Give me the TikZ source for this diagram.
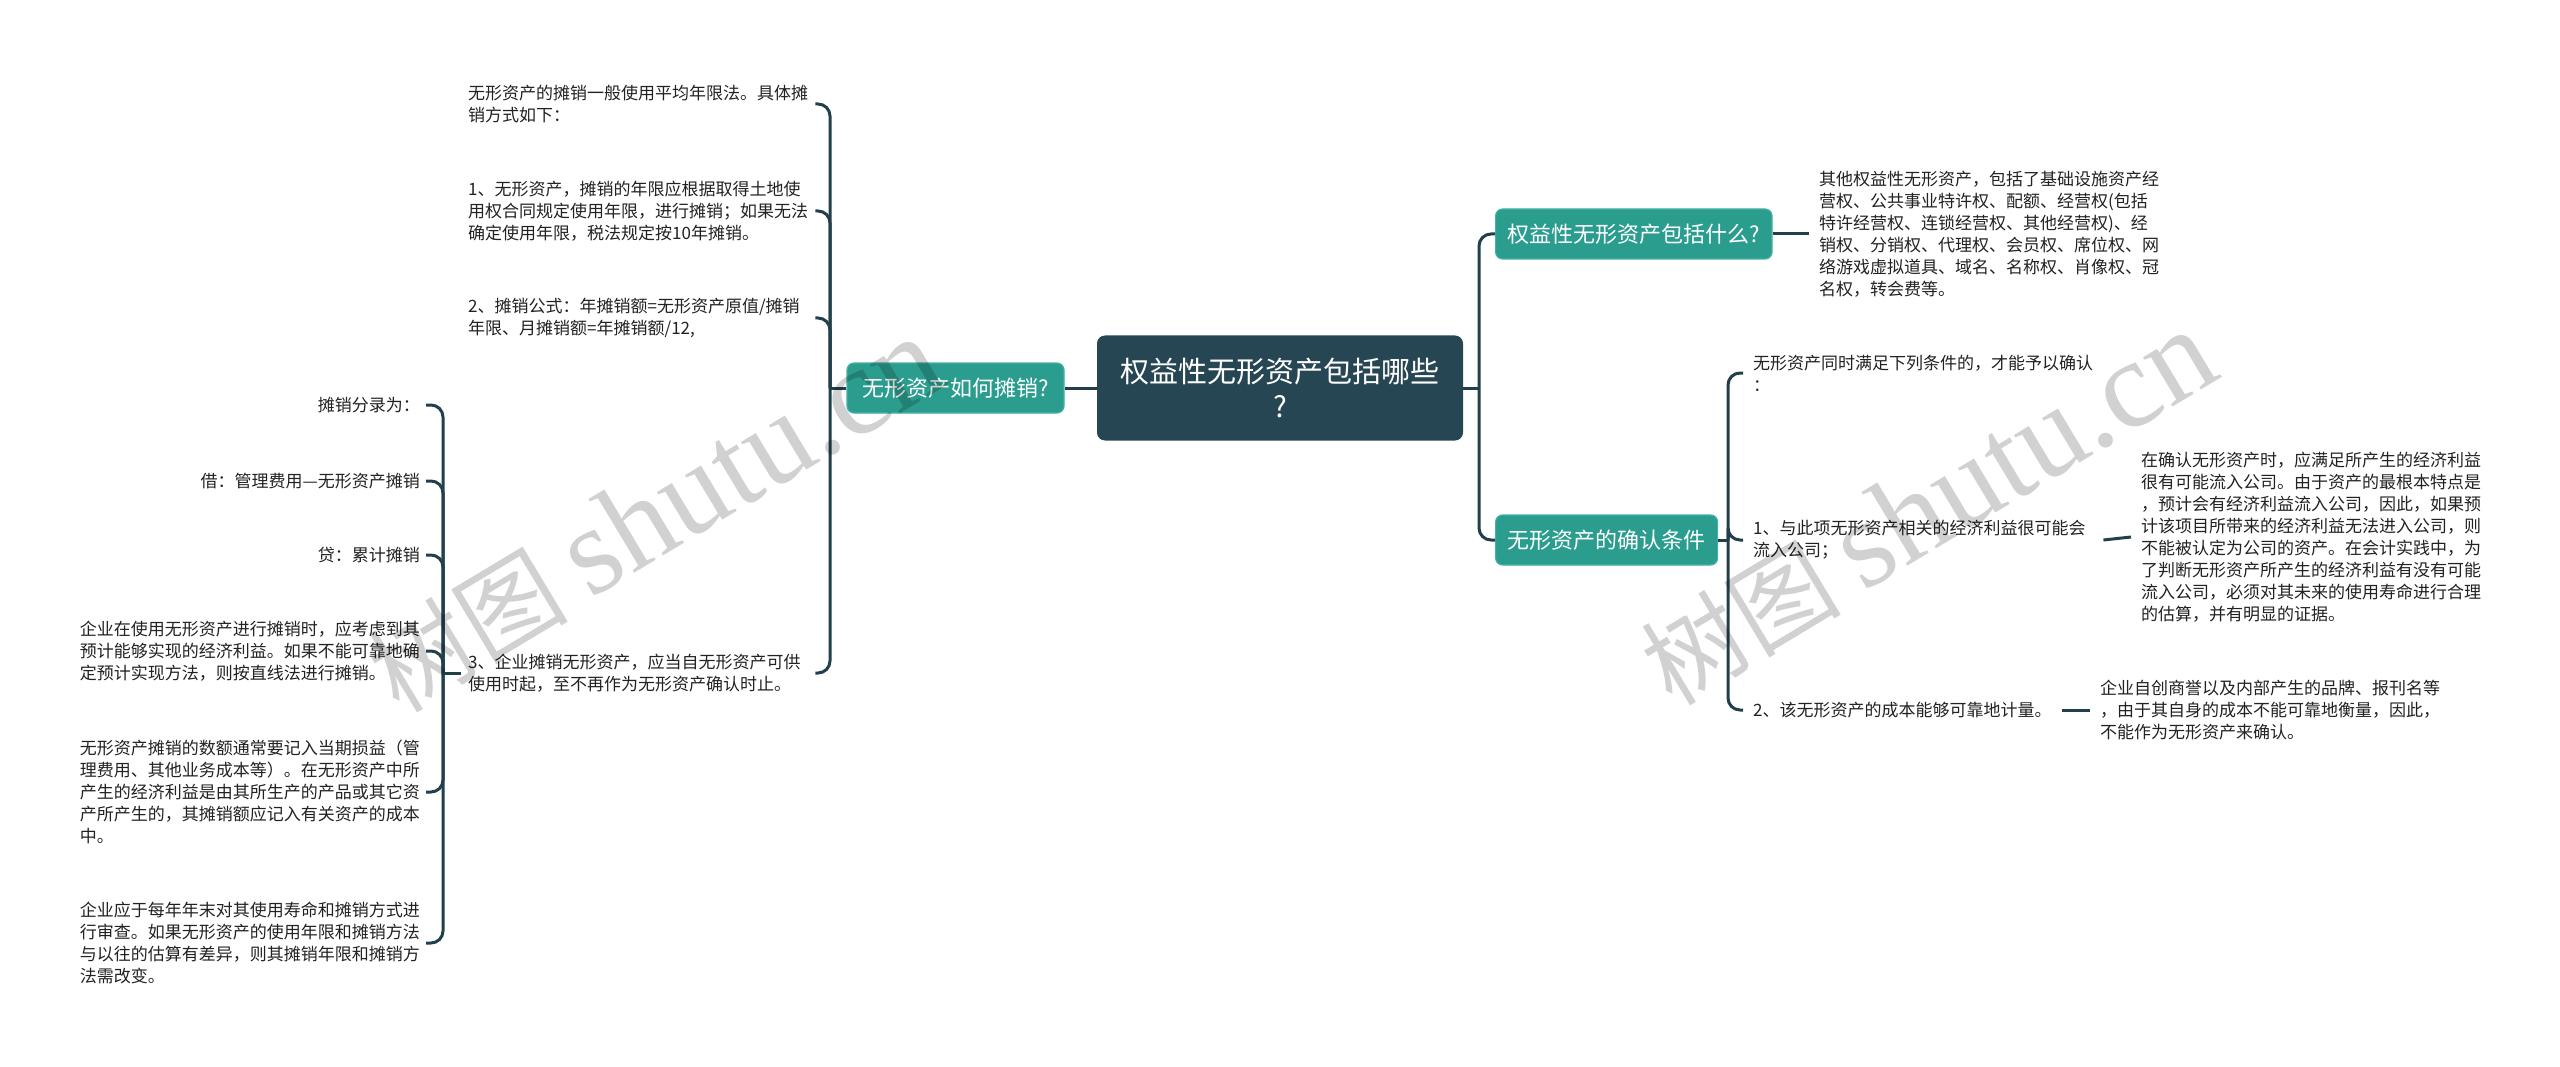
\documentclass[tikz,border=0pt]{standalone}
\usepackage{fontspec}
\setmainfont{Noto Sans CJK SC}
\newfontfamily\wmlatin{Liberation Serif}
\definecolor{rootc}{HTML}{264653}
\definecolor{tealbox}{HTML}{2A9D8F}
\definecolor{tealedge}{HTML}{45B0A2}
\definecolor{linec}{HTML}{22404B}
\definecolor{txtc}{HTML}{222222}
\begin{document}
\begin{tikzpicture}[x=1pt,y=-1pt,
  rootbox/.style={fill=rootc, rounded corners=8, text=white, font=\fontsize{29}{35}\selectfont, align=center, minimum width=366, minimum height=105, inner sep=0},
  lonebox/.style={fill=tealbox, draw=tealedge, line width=1.2, rounded corners=7, text=white, font=\fontsize{22}{26}\selectfont, minimum height=50, inner xsep=12, inner ysep=0},
  leaf/.style={text=txtc, font=\fontsize{17}{22}\selectfont, align=left, inner ysep=2, inner xsep=7},
  conn/.style={draw=linec, line width=3, rounded corners=12},
  flat/.style={draw=linec, line width=3},
  wm/.style={text=black, text opacity=0.18, font=\fontsize{100}{100}\selectfont, inner sep=0}
]
\useasboundingbox (0,0) rectangle (2560,1067);
\fill[white] (0,0) rectangle (2560,1067);

% root and first level
\node[rootbox] (root) at (1280,388) {权益性无形资产包括哪些\\?};
\node[lonebox, anchor=center, minimum width=217] (L) at (955.5,388) {无形资产如何摊销?};
\node[lonebox, anchor=west] (RA) at (1495,234) {权益性无形资产包括什么?};
\node[lonebox, anchor=west] (RB) at (1495,540) {无形资产的确认条件};

% left branch leaves
\node[leaf, anchor=west, text width=340] (a1) at (461,104) {无形资产的摊销一般使用平均年限法。具体摊\\销方式如下：};
\node[leaf, anchor=west, text width=340] (a2) at (461,211) {1、无形资产，摊销的年限应根据取得土地使\\用权合同规定使用年限，进行摊销；如果无法\\确定使用年限，税法规定按10年摊销。};
\node[leaf, anchor=west, text width=340] (a3) at (461,318) {2、摊销公式：年摊销额=无形资产原值/摊销\\年限、月摊销额=年摊销额/12,};
\node[leaf, anchor=west, text width=340] (a4) at (461,673) {3、企业摊销无形资产，应当自无形资产可供\\使用时起，至不再作为无形资产确认时止。};

\node[leaf, anchor=east, text width=340, align=right, inner xsep=6] (b1) at (426,405) {摊销分录为：};
\node[leaf, anchor=east, text width=340, align=right, inner xsep=6] (b2) at (426,481) {借：管理费用—无形资产摊销};
\node[leaf, anchor=east, text width=340, align=right, inner xsep=6] (b3) at (426,555) {贷：累计摊销};
\node[leaf, anchor=east, text width=340, inner xsep=6] (b4) at (426,651) {企业在使用无形资产进行摊销时，应考虑到其\\预计能够实现的经济利益。如果不能可靠地确\\定预计实现方法，则按直线法进行摊销。};
\node[leaf, anchor=east, text width=340, inner xsep=6] (b5) at (426,792) {无形资产摊销的数额通常要记入当期损益（管\\理费用、其他业务成本等）。在无形资产中所\\产生的经济利益是由其所生产的产品或其它资\\产所产生的，其摊销额应记入有关资产的成本\\中。};
\node[leaf, anchor=east, text width=340, inner xsep=6] (b6) at (426,943) {企业应于每年年末对其使用寿命和摊销方式进\\行审查。如果无形资产的使用年限和摊销方法\\与以往的估算有差异，则其摊销年限和摊销方\\法需改变。};

% right branch leaves
\node[leaf, anchor=west, text width=340, inner xsep=10] (ra1) at (1809,234) {其他权益性无形资产，包括了基础设施资产经\\营权、公共事业特许权、配额、经营权(包括\\特许经营权、连锁经营权、其他经营权)、经\\销权、分销权、代理权、会员权、席位权、网\\络游戏虚拟道具、域名、名称权、肖像权、冠\\名权，转会费等。};
\node[leaf, anchor=west, inner xsep=10] (d1) at (1743,373) {无形资产同时满足下列条件的，才能予以确认\\：};
\node[leaf, anchor=west, text width=340, inner xsep=10] (d2) at (1743,540) {1、与此项无形资产相关的经济利益很可能会\\流入公司；};
\node[leaf, anchor=west, inner xsep=10] (d3) at (1743,710) {2、该无形资产的成本能够可靠地计量。};
\node[leaf, anchor=west, text width=345, inner xsep=10] (e1) at (2131,537) {在确认无形资产时，应满足所产生的经济利益\\很有可能流入公司。由于资产的最根本特点是\\，预计会有经济利益流入公司，因此，如果预\\计该项目所带来的经济利益无法进入公司，则\\不能被认定为公司的资产。在会计实践中，为\\了判断无形资产所产生的经济利益有没有可能\\流入公司，必须对其未来的使用寿命进行合理\\的估算，并有明显的证据。};
\node[leaf, anchor=west, inner xsep=10] (e2) at (2090,710) {企业自创商誉以及内部产生的品牌、报刊名等\\，由于其自身的成本不能可靠地衡量，因此，\\不能作为无形资产来确认。};

% spine coordinates
\coordinate (Ls) at (830,388);
\coordinate (a4s) at (443,673);
\coordinate (Rs) at (1479,388);
\coordinate (RBs) at (1728,540);

% connectors
\draw[flat] (root.west) -- (L.east);
\draw[flat] (root.east) -- (Rs);
\draw[conn] (Rs) |- (RA.west);
\draw[conn] (Rs) |- (RB.west);

\draw[flat] (L.west) -- (Ls);
\foreach \n in {a1,a2,a3,a4} \draw[conn] (Ls) |- (\n.east);

\draw[flat] (a4.west) -- (a4s);
\foreach \n in {b1,b2,b3,b4,b5,b6} \draw[conn] (a4s) |- (\n.east);

\draw[flat] (RA.east) -- (ra1.west);
\draw[flat] (RB.east) -- (RBs);
\foreach \n in {d1,d2,d3} \draw[conn] (RBs) |- (\n.west);
\draw[flat] (d2.east) -- (e1.west);
\draw[flat] (d3.east) -- (e2.west);

% watermarks
\node[wm, rotate=31] (w1) at (655,515) {树图 {\wmlatin\fontsize{125}{125}\selectfont shutu.cn}};
\node[wm, rotate=31] (w2) at (1928,508) {树图 {\wmlatin\fontsize{125}{125}\selectfont shutu.cn}};
\end{tikzpicture}
\end{document}
